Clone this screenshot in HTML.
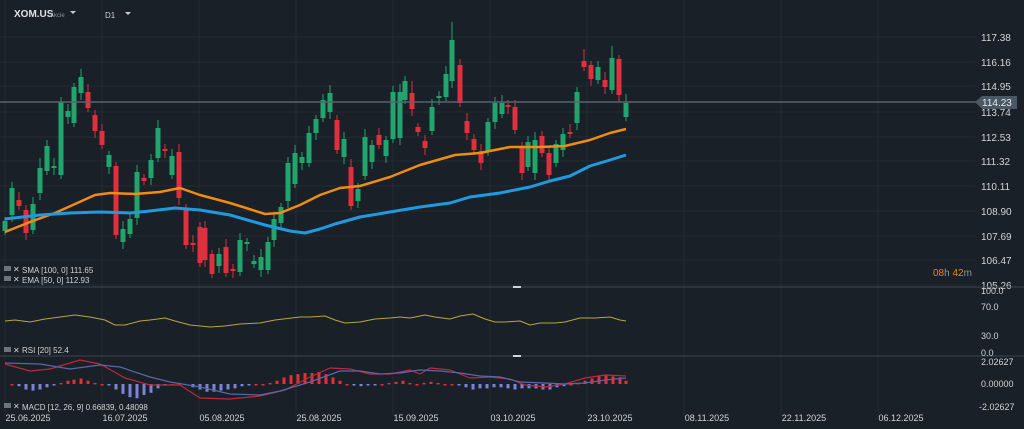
<!DOCTYPE html>
<html><head><meta charset="utf-8"><style>
html,body{margin:0;padding:0;background:#192027;}
body{width:1024px;height:429px;overflow:hidden;position:relative;font-family:"Liberation Sans",sans-serif;}
svg{position:absolute;left:0;top:0;}
</style></head><body>
<svg id="s" width="1024" height="429" xmlns="http://www.w3.org/2000/svg" font-family="Liberation Sans, sans-serif">
<rect width="1024" height="429" fill="#192027"/>
<g id="grid" stroke="#222a33" stroke-width="1"></g>
<g id="c"></g>
<g id="ma"></g>
<line x1="0" y1="102" x2="978" y2="102" stroke="#56636f" stroke-width="1.5"/>
<polygon points="975,102 982,96 1017,96 1017,109 982,109" fill="#4a5866"/>
<text x="982" y="106" fill="#e6e9ec" font-size="10">114.23</text>
<g fill="#d0d4d8" font-size="10" id="yl"></g>
<line x1="0" y1="287" x2="1024" y2="287" stroke="#3c4650"/>
<line x1="0" y1="356" x2="1024" y2="356" stroke="#3c4650"/>
<rect x="513" y="286" width="8" height="2" fill="#d0d4d8"/>
<rect x="513" y="355" width="8" height="2" fill="#d0d4d8"/>
<g id="ind"></g>
<text x="14" y="17" fill="#e0e3e6" font-size="10" font-weight="bold">XOM.US</text>
<text x="50" y="17" fill="#8a939c" font-size="6">Akcie</text>
<polygon points="70,11 76,11 73,14" fill="#ccc"/>
<text x="105" y="18" fill="#d0d4d8" font-size="8">D1</text>
<polygon points="125,12 131,12 128,15" fill="#ccc"/>
<g font-size="8" fill="#d0d4d8">
<rect x="4" y="266" width="7" height="5" fill="#6b7580"/><text x="13" y="272">✕</text><text x="22" y="273">SMA [100,  0] 111.65</text>
<rect x="4" y="276" width="7" height="5" fill="#6b7580"/><text x="13" y="282">✕</text><text x="22" y="283">EMA [50,  0] 112.93</text>
<rect x="4" y="347" width="7" height="5" fill="#6b7580"/><text x="13" y="353">✕</text><text x="22" y="353">RSI [20]  52.4</text>
<rect x="4" y="403" width="7" height="5" fill="#6b7580"/><text x="13" y="409">✕</text><text x="22" y="410">MACD [12, 26, 9] 0.66839,  0.48098</text>
</g>
<text x="933" y="276" font-size="10" fill="#e08a1e">08<tspan fill="#8a939c">h </tspan>42<tspan fill="#8a939c">m</tspan></text>
<g fill="#d0d4d8" font-size="9">
<text x="981" y="294">100.0</text><text x="981" y="310">70.0</text><text x="981" y="339">30.0</text><text x="981" y="356">0.0</text>
<text x="981" y="365">2.02627</text><text x="981" y="387">0.00000</text><text x="979" y="410">-2.02627</text>
</g>
<g fill="#d0d4d8" font-size="9" id="xl"></g>
</svg>
<script>
var NS="http://www.w3.org/2000/svg";
function el(p,t,a){var e=document.createElementNS(NS,t);for(var k in a)e.setAttribute(k,a[k]);document.getElementById(p).appendChild(e);return e;}
var ticks=[["117.38",37],["116.16",62],["114.95",86],["113.74",112],["112.53",137],["111.32",161],["110.11",186],["108.90",211],["107.69",236],["106.47",260],["105.26",285]];
ticks.forEach(function(t){el("grid","line",{x1:0,x2:975,y1:t[1],y2:t[1]});var e=el("yl","text",{x:981,y:t[1]+4});e.textContent=t[0];});
var dates=["25.06.2025","16.07.2025","05.08.2025","25.08.2025","15.09.2025","03.10.2025","23.10.2025","08.11.2025","22.11.2025","06.12.2025"];
dates.forEach(function(d,i){var x=5+i*97;el("grid","line",{x1:x,x2:x,y1:0,y2:415});var e=el("xl","text",{x:x+23,y:421,"text-anchor":"middle"});e.textContent=d;});
var C=[[5,221,231,'g'],[12,188,215,'g'],[19,200,206,'r'],[26,210,233,'r'],[33,204,230,'g'],[40,168,193,'g'],[47,146,171,'g'],[54,166,168,'g'],[61,102,175,'g'],[68,111,117,'g'],[74,87,123,'g'],[81,77,93,'g'],[88,92,108,'r'],[95,115,131,'r'],[102,131,145,'r'],[109,155,167,'g'],[116,166,235,'r'],[123,229,242,'g'],[130,219,234,'g'],[137,172,218,'g'],[144,178,181,'r'],[151,160,178,'g'],[158,128,158,'g'],[165,149,151,'r'],[172,156,175,'g'],[179,152,198,'r'],[186,210,245,'r'],[193,243,245,'r'],[200,227,263,'r'],[205,228,260,'r'],[212,254,274,'r'],[219,254,266,'g'],[226,247,273,'r'],[233,269,271,'r'],[240,240,272,'g'],[247,242,244,'g'],[254,261,264,'g'],[261,257,270,'g'],[268,242,270,'g'],[274,219,240,'g'],[281,207,223,'g'],[288,163,201,'g'],[295,153,184,'g'],[302,157,163,'g'],[309,133,163,'g'],[316,119,133,'g'],[323,100,118,'g'],[330,93,112,'g'],[337,120,150,'r'],[344,139,157,'g'],[351,167,206,'r'],[358,189,201,'g'],[365,137,176,'g'],[372,145,162,'g'],[379,135,145,'r'],[386,140,156,'g'],[393,92,139,'g'],[400,92,138,'g'],[405,81,100,'g'],[412,93,109,'r'],[418,127,132,'r'],[425,141,148,'r'],[432,107,131,'g'],[439,96,98,'g'],[446,74,97,'g'],[452,40,81,'g'],[460,65,103,'r'],[467,121,133,'r'],[474,139,150,'r'],[481,151,163,'r'],[488,122,152,'g'],[495,103,122,'g'],[502,103,114,'g'],[508,105,107,'r'],[515,107,130,'r'],[522,146,173,'r'],[528,142,167,'g'],[535,140,173,'g'],[542,136,153,'r'],[549,153,175,'r'],[556,144,163,'g'],[563,134,150,'g'],[570,132,134,'r'],[577,92,123,'g'],[584,61,67,'r'],[591,65,79,'r'],[598,67,80,'g'],[605,80,87,'r'],[612,58,90,'g'],[619,59,95,'r'],[626,103,117,'g']];
var wl={452:18,446:8,412:12,584:12,619:4,612:12,626:9,81:8,40:10,179:8,116:4,351:8};
C.forEach(function(c,i){var col=c[3]=='g'?'#22a46e':'#e0303e';var w=4+((i*7)%5);var wt=wl[c[0]]||w;var wb=4+((i*3)%6);
el("c","line",{x1:c[0],x2:c[0],y1:c[1]-wt,y2:c[2]+wb,stroke:col,"stroke-width":1});
el("c","rect",{x:c[0]-2.5,y:c[1],width:5,height:Math.max(2,c[2]-c[1]),fill:col});});
function pl(p,pts,col,w){el(p,"polyline",{points:pts.map(function(a){return a.join(",")}).join(" "),fill:"none",stroke:col,"stroke-width":w,"stroke-linejoin":"round"});}
pl("ma",[[5,232],[30,222],[55,213],[95,195],[110,193],[135,194],[160,192],[180,188],[200,195],[230,203],[265,214],[280,213],[300,205],[320,195],[340,188],[360,186],[390,177],[420,165],[455,155],[480,153],[510,147],[540,147],[565,146],[590,140],[610,133],[626,129]],"#f08c14",2.5);
pl("ma",[[5,219],[40,215],[70,213],[100,212],[130,213],[150,211],[175,208],[200,210],[230,215],[265,225],[290,231],[305,233],[320,229],[335,224],[360,217],[390,212],[420,207],[450,203],[470,197],[500,193],[530,187],[550,181],[570,176],[590,166],[610,160],[626,155]],"#1e9be0",3);
pl("ind",[[5,321],[15,320],[30,322],[45,319],[60,317],[75,315],[90,317],[105,320],[115,325],[125,325],[140,321],[150,320],[165,318],[175,321],[190,325],[210,327],[225,326],[240,324],[260,323],[275,320],[300,317],[310,317],[325,316],[335,320],[345,323],[360,322],[375,319],[390,318],[400,317],[410,318],[425,315],[435,317],[450,319],[460,316],[473,314],[485,319],[495,322],[505,322],[520,321],[530,325],[540,323],[555,323],[565,322],[580,318],[595,318],[610,317],[620,320],[626,321]],"#b8a640",1);
var H=[[12,0],[19,-2],[26,-5],[33,-6],[40,-5],[47,-3],[54,-1],[61,1],[68,3],[74,4],[81,5],[88,3],[95,1],[102,0],[109,-1],[116,-5],[123,-9],[130,-12],[137,-13],[144,-10],[151,-8],[158,-4],[165,-1],[172,0],[179,1],[193,-3],[200,-5],[207,-7],[214,-7],[221,-6],[228,-5],[235,-4],[242,-2],[249,-1],[256,0],[263,0],[270,1],[277,3],[284,6],[291,8],[298,9],[305,10],[312,10],[319,11],[326,9],[333,6],[340,3],[347,0],[354,-1],[361,-2],[368,-1],[375,-1],[382,0],[389,1],[396,2],[403,3],[410,1],[417,0],[424,1],[431,2],[438,1],[445,0],[452,0],[459,-1],[466,-3],[473,-5],[480,-4],[487,-4],[494,-3],[501,-3],[508,-4],[515,-5],[522,-4],[529,-4],[536,-4],[543,-5],[550,-5],[557,-3],[564,-2],[571,0],[578,1],[585,3],[592,5],[599,7],[606,8],[613,7],[620,6],[626,3]];
H.forEach(function(h){var v=h[1]*1.1;var col=v>=0?'#e52e35':'#7b84d8';var y=v>=0?384-v:384;el("ind","rect",{x:h[0]-1.5,y:y,width:3,height:Math.max(1.5,Math.abs(v)),fill:col});});
pl("ind",[[5,364],[30,371],[50,369],[80,360],[100,364],[125,378],[150,385],[180,385],[200,398],[230,399],[260,396],[285,390],[310,377],[330,368],[350,369],[370,374],[390,374],[410,370],[420,374],[430,368],[450,370],[470,378],[490,377],[510,379],[525,385],[545,387],[565,384],[585,378],[605,375],[626,376]],"#c0283a",1.2);
pl("ind",[[5,363],[40,364],[70,369],[100,365],[120,367],[150,377],[170,382],[200,387],[230,394],[260,395],[280,391],[310,382],[340,371],[360,371],[380,374],[400,373],[420,370],[440,371],[460,373],[480,376],[500,377],[520,382],[545,383],[565,384],[585,383],[605,380],[626,378]],"#5a67a8",1.2);
</script>
</body></html>
